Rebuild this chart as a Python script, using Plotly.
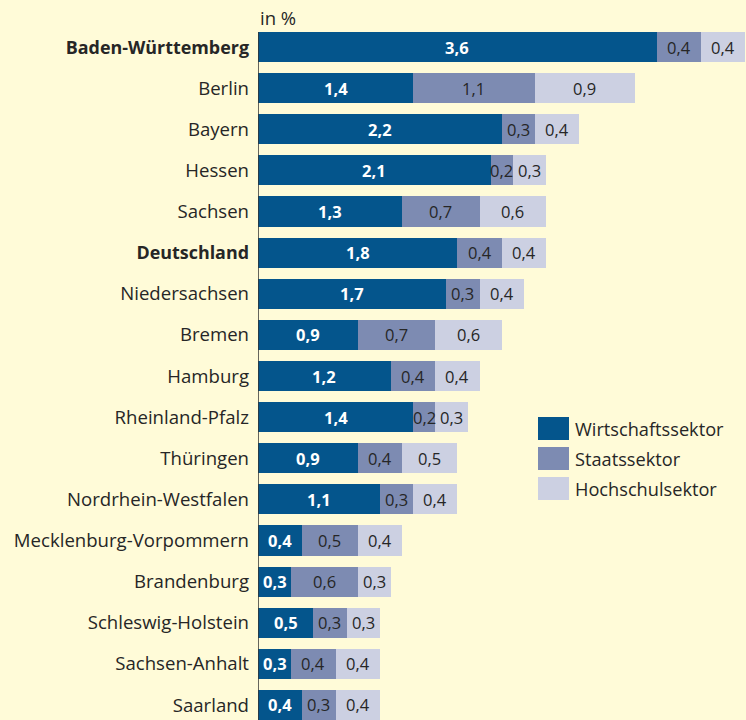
import plotly.graph_objects as go

categories = ["Baden-Württemberg", "Berlin", "Bayern", "Hessen", "Sachsen", "Deutschland",
              "Niedersachsen", "Bremen", "Hamburg", "Rheinland-Pfalz", "Thüringen",
              "Nordrhein-Westfalen", "Mecklenburg-Vorpommern", "Brandenburg",
              "Schleswig-Holstein", "Sachsen-Anhalt", "Saarland"]
wirtschaft = [3.6, 1.4, 2.2, 2.1, 1.3, 1.8, 1.7, 0.9, 1.2, 1.4, 0.9, 1.1, 0.4, 0.3, 0.5, 0.3, 0.4]
staat = [0.4, 1.1, 0.3, 0.2, 0.7, 0.4, 0.3, 0.7, 0.4, 0.2, 0.4, 0.3, 0.5, 0.6, 0.3, 0.4, 0.3]
hochschule = [0.4, 0.9, 0.4, 0.3, 0.6, 0.4, 0.4, 0.6, 0.4, 0.3, 0.5, 0.4, 0.4, 0.3, 0.3, 0.4, 0.4]
bold_cats = ["Baden-Württemberg", "Deutschland"]
series_names = ["Wirtschaftssektor", "Staatssektor", "Hochschulsektor"]
colors = ["#04558C", "#7D8BB2", "#CCD0E2"]
unit_label = "in %"

BG = "#FFFBD8"
FONT = "Open Sans, Liberation Sans, Arial, sans-serif"
W, H = 746, 720
ML, MT = 258, 32

def fmt(v):
    return f"{v:.1f}".replace(".", ",")

fig = go.Figure()
series = [wirtschaft, staat, hochschule]
for name, vals, col in zip(series_names, series, colors):
    fig.add_trace(go.Bar(
        y=categories, x=vals, name=name, orientation="h",
        marker=dict(color=col, line=dict(width=0)),
        width=0.73, showlegend=False, hoverinfo="x+y+name",
    ))

annotations = []
for i, cat in enumerate(categories):
    base = 0.0
    for k, vals in enumerate(series):
        v = vals[i]
        annotations.append(dict(
            x=base + v / 2, y=cat, xref="x", yref="y",
            text=(f"<b>{fmt(v)}</b>" if k == 0 else fmt(v)),
            showarrow=False, xanchor="center", yanchor="middle",
            font=dict(family=FONT, size=16.5, color="#FFFFFF" if k == 0 else "#262626"),
        ))
        base += v

plot_w = W - ML
plot_h = H - MT
annotations.append(dict(
    x=(258 - ML) / plot_w, y=1 + (MT - 17) / plot_h, xref="paper", yref="paper",
    text=unit_label, showarrow=False, xanchor="left", yanchor="middle",
    font=dict(family=FONT, size=18.5, color="#262626"),
))

shapes = []
leg_top = [417, 447, 477]
for name, col, top in zip(series_names, colors, leg_top):
    shapes.append(dict(
        type="rect", xref="paper", yref="paper",
        x0=(538 - ML) / plot_w, x1=(569 - ML) / plot_w,
        y0=1 - (top - MT) / plot_h, y1=1 - (top + 23 - MT) / plot_h,
        fillcolor=col, line=dict(width=0), layer="above",
    ))
    annotations.append(dict(
        x=(573 - ML) / plot_w, y=1 - (top + 11.5 - MT) / plot_h, xref="paper", yref="paper",
        text=name, showarrow=False, xanchor="left", yanchor="middle",
        font=dict(family=FONT, size=18.2, color="#262626"),
    ))

ticktext = [f"<span style='font-weight:bold;font-size:17.9px'>{c}</span>" if c in bold_cats else c
            for c in categories]

fig.update_layout(
    width=W, height=H,
    margin=dict(l=ML, r=0, t=MT, b=0, pad=0),
    paper_bgcolor=BG, plot_bgcolor=BG,
    barmode="stack", bargap=0.27,
    font=dict(family=FONT, size=18, color="#262626"),
    xaxis=dict(range=[0, plot_w / 110.75], visible=False, fixedrange=True),
    yaxis=dict(
        categoryorder="array", categoryarray=categories,
        tickmode="array", tickvals=categories, ticktext=ticktext,
        range=[16.365, -0.365], showgrid=False, zeroline=False,
        showline=False, ticks="", ticklabelstandoff=8,
        tickfont=dict(family=FONT, size=18.6, color="#262626"),
    ),
    annotations=annotations, shapes=shapes,
)
# vertical axis line along x = 0
fig.add_vline(x=0, line=dict(color="#333333", width=1.5))

fig.write_html("out.html", config={"displayModeBar": False},
               post_script="document.body.style.margin='0';document.body.style.background='" + BG + "';")
